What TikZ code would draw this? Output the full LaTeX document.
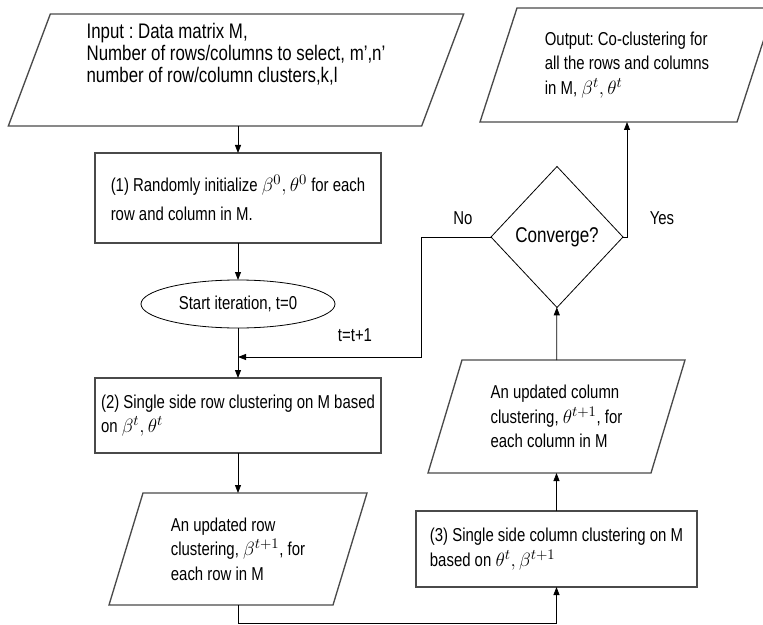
\documentclass[tikz,border=0pt]{standalone}
\usepackage{fontspec}
\setmainfont{Liberation Sans}[FakeStretch=0.8]
\usetikzlibrary{arrows.meta,calc,shapes.geometric}
\definecolor{flowgray}{HTML}{4A4A4A}
\frenchspacing
\newcommand{\vsym}[1]{{\fontsize{15}{16}\selectfont$#1$}}
\newcommand{\slantbox}[2]{%
  \draw[flowline] ($(#1.north west)+(#2,0)$) -- ($(#1.north east)+(#2,0)$)
    -- ($(#1.south east)-(#2,0)$) -- ($(#1.south west)-(#2,0)$) -- cycle;}
\tikzset{
  flowtext/.style={font=\fontsize{14}{18.5}\selectfont,outer sep=0pt},
  flowline/.style={draw=flowgray,line width=1pt},
  procbox/.style={flowtext,flowline,rectangle,align=left,inner xsep=1.5pt},
  iobox/.style={flowtext,rectangle,align=left},
  arr/.style={line width=0.6pt,-{Triangle[length=6pt,width=4.5pt]}}
}
\begin{document}
\begin{tikzpicture}[x=0.75pt,y=-0.75pt]
  \clip (0,0) rectangle (763,624);
  % left column
  \node[iobox,font=\fontsize{15.8}{16.5}\selectfont,minimum width=310pt,minimum height=84pt,text depth=26pt] (in) at (236,70)
    {Input : Data matrix M,\\Number of rows/columns to select, m',n'\\number of row/column clusters,k,l};
  \slantbox{in}{21}
  \node[procbox,minimum width=214.5pt,minimum height=67.5pt] (b1) at (238,198)
    {(1) Randomly initialize \vsym{\beta^{0},\theta^{0}} for each\\[3pt]row and column in M.};
  \node[flowtext,draw,line width=0.6pt,ellipse,minimum width=145.5pt,minimum height=36pt,inner sep=0pt] (st) at (238,304)
    {Start iteration, t=0};
  \node[procbox,minimum width=214.5pt,minimum height=56.25pt] (b2) at (238,415.5)
    {(2) Single side row clustering on M based\\on \vsym{\beta^{t},\theta^{t}}};
  \node[iobox,minimum width=168pt,minimum height=84pt] (rp) at (238,549)
    {An updated row\\clustering, \vsym{\beta^{t+1}}, for\\each row in M};
  \slantbox{rp}{17}
  \coordinate (jn) at (238,357);
  % right column
  \node[procbox,minimum width=210.75pt,minimum height=57pt] (b3) at (556.5,549)
    {(3) Single side column clustering on M\\based on \vsym{\theta^{t},\beta^{t+1}}};
  \node[iobox,minimum width=167.25pt,minimum height=84.75pt] (cp) at (556.5,416.5)
    {An updated column\\clustering, \vsym{\theta^{t+1}}, for\\each column in M};
  \slantbox{cp}{17}
  \node[flowtext,font=\fontsize{16}{18}\selectfont,draw,line width=0.6pt,diamond,minimum width=99pt,minimum height=105.75pt,inner sep=0pt] (cv) at (557,237)
    {Converge?};
  \node[iobox,minimum width=192.75pt,minimum height=85.5pt] (out) at (627,65)
    {Output: Co-clustering for\\all the rows and columns\\in M, \vsym{\beta^{t},\theta^{t}}};
  \slantbox{out}{18.5}
  % labels
  \node[flowtext] (no) at (463,218) {No};
  \node[flowtext] (yes) at (662,218) {Yes};
  \node[flowtext] (inc) at (355,335) {t=t+1};
  % connectors
  \draw[arr] (in.south -| b1.north) -- (b1);
  \draw[arr] (b1) -- (st);
  \draw[arr] (st) -- (b2);
  \draw[arr] (b2) -- (rp);
  \draw[arr] (rp.south) -- ++(0,18) -| (b3.south);
  \draw[arr] (b3) -- (cp);
  \draw[arr] (cp) -- (cv);
  \draw[arr] (cv.east) -| (out.south);
  \draw[arr] (cv.west) -- ++(-70,0) |- (jn);
\end{tikzpicture}
\end{document}
